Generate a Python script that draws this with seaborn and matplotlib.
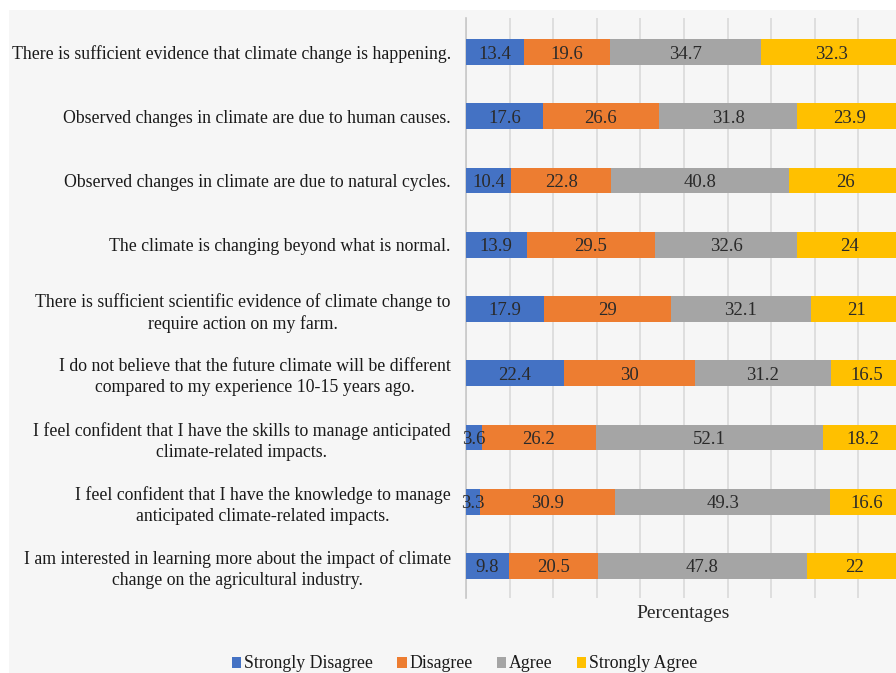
import numpy as np
import pandas as pd
import matplotlib
matplotlib.use("Agg")
import matplotlib.pyplot as plt
from matplotlib.patches import Rectangle, Patch
import seaborn as sns

statements = [
    "There is sufficient evidence that climate change is happening.",
    "Observed changes in climate are due to human causes.",
    "Observed changes in climate are due to natural cycles.",
    "The climate is changing beyond what is normal.",
    "There is sufficient scientific evidence of climate change to\nrequire action on my farm.",
    "I do not believe that the future climate will be different\ncompared to my experience 10-15 years ago.",
    "I feel confident that I have the skills to manage anticipated\nclimate-related impacts.",
    "I feel confident that I have the knowledge to manage\nanticipated climate-related impacts.",
    "I am interested in learning more about the impact of climate\nchange on the agricultural industry.",
]
strongly_disagree = [13.4, 17.6, 10.4, 13.9, 17.9, 22.4, 3.6, 3.3, 9.8]
disagree = [19.6, 26.6, 22.8, 29.5, 29.0, 30.0, 26.2, 30.9, 20.5]
agree = [34.7, 31.8, 40.8, 32.6, 32.1, 31.2, 52.1, 49.3, 47.8]
strongly_agree = [32.3, 23.9, 26.0, 24.0, 21.0, 16.5, 18.2, 16.6, 22.0]
value_labels = [
    ["13.4", "17.6", "10.4", "13.9", "17.9", "22.4", "3.6", "3.3", "9.8"],
    ["19.6", "26.6", "22.8", "29.5", "29", "30", "26.2", "30.9", "20.5"],
    ["34.7", "31.8", "40.8", "32.6", "32.1", "31.2", "52.1", "49.3", "47.8"],
    ["32.3", "23.9", "26", "24", "21", "16.5", "18.2", "16.6", "22"],
]
levels = ["Strongly Disagree", "Disagree", "Agree", "Strongly Agree"]
colors = ["#4472C4", "#ED7D31", "#A5A5A5", "#FFC000"]

sns.set_theme(style="white")
plt.rcParams["font.family"] = ["Liberation Serif", "DejaVu Serif"]

df = pd.DataFrame({"statement": statements,
                   levels[0]: strongly_disagree, levels[1]: disagree,
                   levels[2]: agree, levels[3]: strongly_agree})
cum = df[levels].cumsum(axis=1)

fig = plt.figure(figsize=(8.96, 6.73), dpi=100, facecolor="white")
# light grey chart panel behind everything
fig.patches.append(Rectangle((9 / 896, 0), 1, 1 - 10 / 673,
                             transform=fig.transFigure, facecolor="#f6f6f6",
                             edgecolor="none", zorder=-10))

ax = fig.add_axes([466 / 896, 1 - 598 / 673, (896 - 466) / 896, (598 - 18) / 673])
ax.set_facecolor("none")

# stacked bars: draw cumulative totals from the widest layer down
for lvl, col in reversed(list(zip(levels, colors))):
    sns.barplot(x=cum[lvl], y=df["statement"], orient="h", color=col,
                width=0.4, saturation=1, linewidth=0, ax=ax, zorder=3)

# segment value labels
for i, lvl in enumerate(levels):
    left = cum[lvl] - df[lvl]
    for j in range(len(df)):
        ax.text(left[j] + df[lvl][j] / 2, j, value_labels[i][j],
                ha="center", va="center_baseline", fontsize=13.5,
                color="#2a2a2a", zorder=5)

ax.set_xlim(0, 98.6)
ax.set_ylim(8.5, -0.53)
ax.set_xticks(np.arange(0, 100, 10))
ax.set_xticklabels([])
ax.tick_params(axis="x", length=0)
ax.tick_params(axis="y", length=0, pad=11)
ax.grid(axis="x", color="#dadada", linewidth=1.2, zorder=0)
ax.set_axisbelow(True)
for s in ["top", "right", "bottom"]:
    ax.spines[s].set_visible(False)
ax.spines["left"].set_color("#c8c8c8")
ax.spines["left"].set_linewidth(1.2)

for lab in ax.get_yticklabels():
    lab.set_fontsize(12.8)
    lab.set_color("#1a1a1a")
    lab.set_multialignment("center")
    lab.set_linespacing(1.3)

ax.set_ylabel("")
ax.set_xlabel("Percentages", fontsize=14, color="#262626")
ax.xaxis.set_label_coords((683 - 466) / (896 - 466), -(605 - 598) / 580)

handles = [Patch(facecolor=c, edgecolor="none") for c in colors]
fig.legend(handles, levels, loc="center", bbox_to_anchor=(464.5 / 896, 1 - 664 / 673),
           ncol=4, frameon=False, fontsize=12.8, handlelength=0.55, handleheight=0.55,
           handletextpad=0.15, columnspacing=1.35, labelcolor="#1a1a1a")

fig.savefig("out.png", dpi=100, facecolor="white")
